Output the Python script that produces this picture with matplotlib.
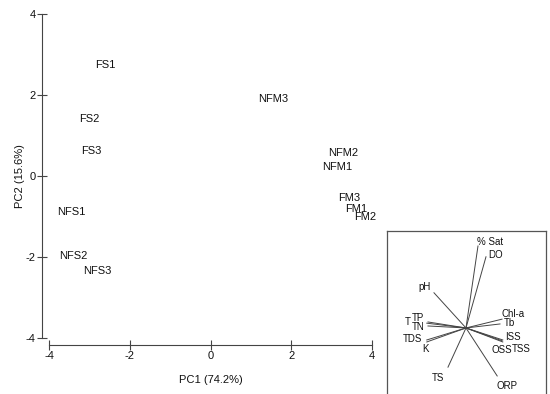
import matplotlib
matplotlib.use("Agg")
import matplotlib.pyplot as plt

plt.rcParams["font.family"] = "Liberation Sans"
plt.rcParams["axes.unicode_minus"] = False

# sample scores
samples = ["FS1", "FS2", "FS3", "NFS1", "NFS2", "NFS3",
           "NFM3", "NFM2", "NFM1", "FM3", "FM1", "FM2"]
pc1 = [-2.6, -3.0, -2.95, -3.44, -3.39, -2.8, 1.55, 3.29, 3.14, 3.44, 3.61, 3.83]
pc2 = [2.74, 1.41, 0.62, -0.89, -1.98, -2.35, 1.90, 0.57, 0.22, -0.54, -0.81, -1.01]

# variable loadings for the biplot inset
variables = ["% Sat", "DO", "pH", "Chl-a", "Tb", "ISS", "TSS", "OSS",
             "ORP", "TS", "TDS", "K", "T", "TP", "TN"]
load1 = [0.30, 0.50, -0.80, 0.90, 0.85, 0.92, 0.92, 0.90,
         0.78, -0.45, -0.98, -0.98, -0.98, -0.95, -0.95]
load2 = [2.05, 1.78, 0.88, 0.22, 0.10, -0.30, -0.35, -0.32,
         -1.20, -0.98, -0.30, -0.35, 0.12, 0.15, 0.05]
# label offsets (points) from the end of each line
label_off = [(9, 3), (7, 1), (-7, 4), (8, 4), (7, 1), (7, 2), (13, -5), (0, -7),
             (7, -7), (-7, -8), (-10, 1), (-1, -5), (-14, 1), (-7, 3), (-7, -1)]

fig = plt.figure(figsize=(5.5, 3.94), dpi=100)
ax = fig.add_axes([0.0891, 0.1421, 0.5873, 0.8223])

for name, x, y in zip(samples, pc1, pc2):
    ax.text(x, y, name, ha="center", va="center", fontsize=8, color="#111111")

ax.set_xlim(-4, 4)
ax.set_ylim(-4, 4)
ax.set_xticks([-4, -2, 0, 2, 4])
ax.set_yticks([-4, -2, 0, 2, 4])
for s in ["top", "right"]:
    ax.spines[s].set_visible(False)
for s in ["left", "bottom"]:
    ax.spines[s].set_position(("outward", 5))
    ax.spines[s].set_color("#444444")
    ax.spines[s].set_linewidth(0.8)
ax.tick_params(direction="inout", length=7, width=0.8, color="#444444",
               labelsize=8, labelcolor="#111111", pad=1)
ax.set_xlabel("PC1 (74.2%)", fontsize=8, labelpad=10, color="#111111")
ax.set_ylabel("PC2 (15.6%)", fontsize=8, labelpad=0.5, color="#111111")

# biplot inset
ins = fig.add_axes([0.7036, -0.01, 0.2891, 0.4237])
for name, x, y, off in zip(variables, load1, load2, label_off):
    ins.plot([0, x], [0, y], color="#444444", lw=0.7)
    ins.annotate(name, (x, y), xytext=off, textcoords="offset points",
                 ha="center", va="center", fontsize=7, color="#111111")
ins.set_xlim(-1.975, 2.0)
ins.set_ylim(-1.75, 2.425)
ins.set_xticks([])
ins.set_yticks([])
ins.spines["bottom"].set_visible(False)
for s in ["top", "left", "right"]:
    ins.spines[s].set_color("#555555")
    ins.spines[s].set_linewidth(0.9)

fig.savefig("out.png", dpi=100)
